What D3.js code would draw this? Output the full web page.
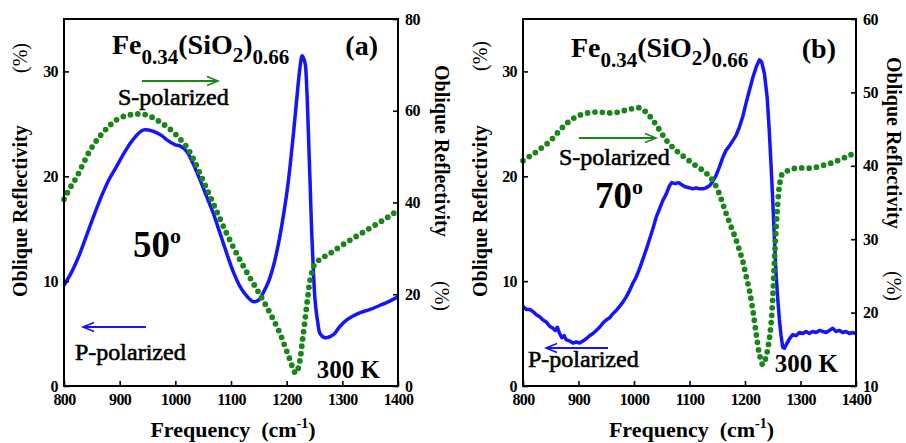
<!DOCTYPE html>
<html>
<head>
<meta charset="utf-8">
<script src="https://cdn.jsdelivr.net/npm/d3@7"></script>
<style>
  body { margin: 0; background: #fff; }
</style>
</head>
<body>
<svg id="chart" width="906" height="443" font-family="'Liberation Serif', 'DejaVu Serif', serif"></svg>
<script>
// tick values
var freqTicks = [800, 900, 1000, 1100, 1200, 1300, 1400];
var leftTicks = [0, 10, 20, 30];
var rightTicksA = [0, 20, 40, 60, 80];
var rightTicksB = [10, 20, 30, 40, 50, 60];

// (a) 50 deg, P-polarized (left axis, %)
var pPolA = [[800,9.6],[815,11.0],[829,12.7],[847,15.3],[865,17.8],[880,19.6],[894,20.9],[910,22.4],[924,23.5],
  [942,24.4],[960,24.3],[975,23.9],[984,23.5],[1000,23.0],[1008,22.9],[1020,22.4],[1032,21.2],[1044,19.7],
  [1056,18.1],[1068,16.5],[1080,14.6],[1092,12.7],[1104,10.9],[1116,9.5],[1128,8.6],[1140,8.05],[1150,8.2],
  [1158,8.9],[1167,9.9],[1176,11.4],[1185,13.5],[1194,16.2],[1200,18.3],[1206,20.9],[1212,24.0],[1218,27.3],
  [1224,30.4],[1228,31.5],[1233,30.8],[1236,28.5],[1239,24.2],[1242,19.5],[1245,14.6],[1248,11.0],[1251,8.2],
  [1256,6.0],[1260,5.0],[1269,4.6],[1284,4.9],[1296,5.7],[1308,6.3],[1320,6.7],[1332,7.0],[1350,7.3],
  [1368,7.7],[1385,8.1],[1400,8.5]];

// (a) 50 deg, S-polarized (right axis, %)
var sPolA = [[800,40.7],[811,43.2],[823,45.6],[835,48.6],[847,51.4],[859,53.6],[871,55.4],[883,56.9],[894,58.0],
  [910,58.9],[924,59.2],[936,59.3],[948,59.1],[960,58.5],[972,57.6],[984,56.6],[996,55.4],[1008,53.9],[1020,52.2],
  [1032,49.6],[1044,46.4],[1056,43.1],[1068,39.8],[1080,36.5],[1092,33.3],[1104,30.3],[1116,27.5],[1128,24.9],
  [1140,22.4],[1152,19.9],[1164,17.3],[1176,14.5],[1188,11.5],[1197,8.6],[1206,5.7],[1212,3.6],[1216,2.8],
  [1220,3.6],[1224,5.7],[1228,9.6],[1233,14.4],[1238,19.5],[1242,23.1],[1247,25.5],[1251,26.7],[1265,28.0],
  [1278,28.9],[1296,30.4],[1314,31.8],[1329,32.9],[1344,34.0],[1359,35.1],[1374,36.2],[1388,37.3],[1400,38.3]];

// (b) 70 deg, P-polarized (left axis, %)
var pPolB = [[800,7.6],[806,7.3],[812,7.3],[818,7.1],[824,6.8],[830,6.6],[836,6.3],[842,6.1],[848,5.7],[854,5.5],
  [858,5.3],[862,5.6],[866,5.0],[870,4.6],[874,4.8],[878,4.4],[884,4.3],[890,4.1],[896,4.2],[902,4.1],[908,4.3],
  [914,4.5],[920,4.8],[926,5.0],[932,5.3],[938,5.6],[944,6.0],[950,6.3],[956,6.5],[962,6.9],[968,7.2],[974,7.6],
  [980,8.0],[986,8.5],[992,9.1],[998,9.8],[1004,10.4],[1010,11.2],[1016,12.1],[1022,13.0],[1028,14.0],[1034,15.0],
  [1040,16.1],[1046,16.9],[1052,17.7],[1058,18.3],[1064,19.1],[1068,19.4],[1074,19.3],[1080,19.4],[1086,19.2],
  [1092,19.0],[1100,18.9],[1106,18.8],[1112,18.9],[1118,18.8],[1124,18.8],[1130,18.9],[1136,19.1],[1142,19.5],
  [1148,20.1],[1154,20.9],[1160,21.8],[1166,22.5],[1172,22.9],[1178,23.4],[1184,23.9],[1190,24.7],[1196,25.7],
  [1202,27.0],[1208,28.2],[1214,29.4],[1220,30.4],[1226,31.1],[1230,30.9],[1235,29.8],[1240,27.5],[1244,24.1],
  [1247,21.0],[1250,17.7],[1253,14.0],[1256,10.7],[1259,8.3],[1262,6.3],[1265,4.8],[1268,3.7],[1271,3.6],
  [1274,3.9],[1280,4.5],[1286,4.9],[1292,4.8],[1298,5.1],[1304,5.0],[1310,5.2],[1316,5.0],[1322,5.2],[1328,5.1],
  [1334,5.3],[1340,5.2],[1346,5.1],[1352,5.3],[1358,5.5],[1364,5.2],[1370,5.3],[1376,5.1],[1382,5.2],[1388,5.0],
  [1394,5.1],[1400,5.0]];

// (b) 70 deg, S-polarized (right axis, %)
var sPolB = [[800,40.7],[812,41.3],[824,41.9],[836,42.6],[848,43.3],[860,44.3],[872,45.3],[884,46.1],[896,46.7],
  [911,47.1],[926,47.3],[941,47.3],[956,47.2],[971,47.3],[986,47.6],[998,47.8],[1010,47.9],[1022,47.3],[1034,46.2],
  [1046,44.9],[1058,43.5],[1070,42.5],[1082,41.7],[1094,41.0],[1106,40.3],[1118,39.7],[1130,39.0],[1139,38.3],
  [1148,37.2],[1157,35.5],[1166,33.5],[1175,31.7],[1184,29.9],[1190,28.5],[1196,27.0],[1202,25.0],[1208,23.0],
  [1214,20.4],[1220,17.2],[1226,14.3],[1232,12.9],[1238,14.0],[1244,16.5],[1247,18.5],[1250,22.0],[1253,27.0],
  [1256,31.5],[1259,34.8],[1262,37.2],[1268,39.0],[1280,39.4],[1292,39.7],[1307,39.7],[1322,39.7],[1337,40.0],
  [1352,40.3],[1364,40.6],[1376,41.0],[1388,41.4],[1400,41.9]];

var blue = '#1414ff', green = '#1a861a';
var serif = "'Liberation Serif', 'DejaVu Serif', serif";
var svg = d3.select('#chart');

function arrow(g, x1, x2, y, color) {
  var dir = x2 > x1 ? 1 : -1;
  g.append('line')
      .attr('x1', x1).attr('x2', x2).attr('y1', y).attr('y2', y)
      .attr('stroke', color).attr('stroke-width', 2);
  g.append('path')
      .attr('d', 'M' + (x2 - dir * 11) + ',' + (y - 4.5) + 'L' + x2 + ',' + y + 'L' + (x2 - dir * 11) + ',' + (y + 4.5))
      .attr('fill', 'none').attr('stroke', color).attr('stroke-width', 1.6);
}

function drawPanel(p) {
  var g = svg.append('g').attr('font-family', serif);
  var x = d3.scaleLinear().domain([800, 1400]).range([p.left, p.right]);
  var yL = d3.scaleLinear().domain([0, 35]).range([p.bottom, p.top]);
  var yR = d3.scaleLinear().domain(p.rightDomain).range([p.bottom, p.top]);

  g.append('path')
      .datum(p.pPol)
      .attr('d', d3.line().x(function (d) { return x(d[0]); }).y(function (d) { return yL(d[1]); })
          .curve(p.smooth ? d3.curveCatmullRom : d3.curveLinear))
      .attr('fill', 'none').attr('stroke', blue).attr('stroke-width', 3.5)
      .attr('stroke-linejoin', 'round');

  g.append('path')
      .datum(p.sPol)
      .attr('d', d3.line().x(function (d) { return x(d[0]); }).y(function (d) { return yR(d[1]); })
          .curve(d3.curveCatmullRom))
      .attr('fill', 'none').attr('stroke', green).attr('stroke-width', 5.8)
      .attr('stroke-linecap', 'round').attr('stroke-dasharray', '0 7.4');

  g.append('rect')
      .attr('x', p.left).attr('y', p.top)
      .attr('width', p.right - p.left).attr('height', p.bottom - p.top)
      .attr('fill', 'none').attr('stroke', '#000').attr('stroke-width', 2);

  var tickStyle = function (sel) {
    sel.attr('font-family', serif).attr('font-size', 16);
    sel.select('.domain').remove();
    sel.selectAll('line').attr('stroke', '#000').attr('stroke-width', 1.6);
    sel.selectAll('text')
        .attr('font-weight', 'bold')
        .attr('letter-spacing', '-0.6px').attr('fill', '#000');
  };
  g.append('g').attr('transform', 'translate(0,' + p.bottom + ')')
      .call(d3.axisBottom(x).tickValues(freqTicks).tickSize(-5).tickPadding(8).tickFormat(d3.format('d')))
      .call(tickStyle);
  g.append('g').attr('transform', 'translate(' + p.left + ',0)')
      .call(d3.axisLeft(yL).tickValues(leftTicks).tickSize(-5).tickPadding(6).tickFormat(d3.format('d')))
      .call(tickStyle);
  g.append('g').attr('transform', 'translate(' + p.right + ',0)')
      .call(d3.axisRight(yR).tickValues(p.rightTicks).tickSize(-5).tickPadding(7).tickFormat(d3.format('d')))
      .call(tickStyle);

  // axis titles
  var xt = g.append('text')
      .attr('x', (p.left + p.right) / 2 + 2).attr('y', 437)
      .attr('text-anchor', 'middle').attr('font-weight', 'bold').attr('font-size', 22);
  xt.append('tspan').text('Frequency\u00a0\u00a0(cm');
  xt.append('tspan').attr('dy', -9).attr('font-size', 14).text('-1');
  xt.append('tspan').attr('dy', 9).text(')');

  g.append('text')
      .attr('transform', 'translate(' + p.ylx + ',297) rotate(-90)')
      .attr('dominant-baseline', 'central').attr('font-weight', 'bold').attr('font-size', 20)
      .text('Oblique Reflectivity');
  g.append('text')
      .attr('transform', 'translate(' + p.ylx + ',' + p.ylPct + ') rotate(-90)')
      .attr('text-anchor', 'middle').attr('dominant-baseline', 'central').attr('font-size', 20)
      .text('(%)');
  g.append('text')
      .attr('transform', 'translate(' + p.yrx + ',' + p.yrTop + ') rotate(90)')
      .attr('dominant-baseline', 'central').attr('font-weight', 'bold').attr('font-size', 20)
      .text('Oblique Reflectivity');
  g.append('text')
      .attr('transform', 'translate(' + p.yrx + ',' + p.yrPct + ') rotate(90)')
      .attr('text-anchor', 'middle').attr('dominant-baseline', 'central').attr('font-size', 20)
      .text('(%)');

  // title formula
  var t = g.append('text')
      .attr('x', p.titleX).attr('y', p.titleY)
      .attr('font-weight', 'bold').attr('font-size', 28);
  t.append('tspan').text('Fe');
  t.append('tspan').attr('dy', 10).attr('font-size', 21).text('0.34');
  t.append('tspan').attr('dy', -10).text('(SiO');
  t.append('tspan').attr('dy', 8).attr('font-size', 21).text('2');
  t.append('tspan').attr('dy', -8).text(')');
  t.append('tspan').attr('dy', 10).attr('font-size', 21).text('0.66');

  g.append('text')
      .attr('x', p.right - 20).attr('y', p.titleY + 1)
      .attr('text-anchor', 'end').attr('font-weight', 'bold').attr('font-size', 28)
      .text(p.tag);

  // angle
  var a = g.append('text')
      .attr('x', p.angleX).attr('y', p.angleY)
      .attr('font-weight', 'bold').attr('font-size', 37);
  a.append('tspan').text(p.angle);
  a.append('tspan').attr('dy', -14).attr('font-size', 22).text('o');

  // polarization labels
  arrow(g, p.sArrow[0], p.sArrow[1], p.sArrow[2], green);
  g.append('text')
      .attr('x', p.sText[0]).attr('y', p.sText[1])
      .attr('font-size', 24).attr('stroke', '#000').attr('stroke-width', 0.6)
      .text('S-polarized');
  arrow(g, p.pArrow[0], p.pArrow[1], p.pArrow[2], blue);
  g.append('text')
      .attr('x', p.pText[0]).attr('y', p.pText[1])
      .attr('font-size', 24).attr('stroke', '#000').attr('stroke-width', 0.6)
      .text('P-polarized');

  g.append('text')
      .attr('x', p.right - 18).attr('y', p.kY)
      .attr('text-anchor', 'end').attr('font-weight', 'bold').attr('font-size', 25)
      .text('300 K');
}

drawPanel({
  left: 64, right: 398, top: 19, bottom: 386,
  rightDomain: [0, 80], rightTicks: rightTicksA,
  pPol: pPolA, sPol: sPolA, smooth: true,
  ylx: 20, ylPct: 58, yrx: 442, yrTop: 65, yrPct: 296,
  titleX: 112, titleY: 54, tag: '(a)',
  angle: '50', angleX: 133, angleY: 257,
  sArrow: [142, 218, 81], sText: [118, 105],
  pArrow: [146, 83, 327], pText: [75, 360],
  kY: 378
});

drawPanel({
  left: 523, right: 856, top: 19, bottom: 386,
  rightDomain: [10, 60], rightTicks: rightTicksB,
  pPol: pPolB, sPol: sPolB, smooth: false,
  ylx: 480, ylPct: 56, yrx: 894, yrTop: 57, yrPct: 286,
  titleX: 571, titleY: 57, tag: '(b)',
  angle: '70', angleX: 595, angleY: 208,
  sArrow: [579, 656, 138], sText: [559, 165],
  pArrow: [608, 546, 348], pText: [528, 367],
  kY: 372
});
</script>
</body>
</html>
